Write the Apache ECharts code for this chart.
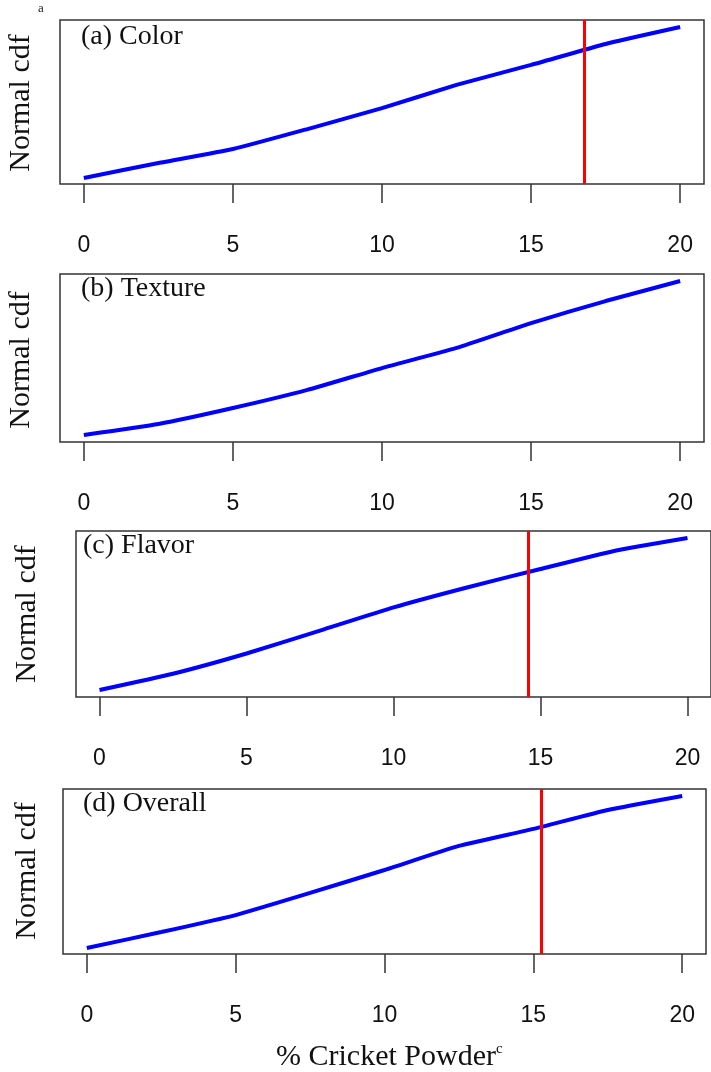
<!DOCTYPE html>
<html>
<head>
<meta charset="utf-8">
<script src="https://cdn.jsdelivr.net/npm/echarts@6/dist/echarts.min.js"></script>
<style>html,body{margin:0;padding:0;background:#fff}#c{width:711px;height:1072px}</style>
</head>
<body>
<div id="c"></div>
<script>
// ---- data ----
const xVals = [0, 2.5, 5, 7.5, 10, 12.5, 15, 17.5, 20];
const colorCdf   = [0.037, 0.128, 0.213, 0.335, 0.463, 0.604, 0.726, 0.854, 0.957];
const textureCdf = [0.042, 0.107, 0.202, 0.310, 0.440, 0.560, 0.708, 0.839, 0.958];
const flavorCdf  = [0.042, 0.140, 0.262, 0.400, 0.540, 0.660, 0.771, 0.880, 0.958];
const overallCdf = [0.036, 0.133, 0.236, 0.370, 0.509, 0.655, 0.758, 0.873, 0.958];
const panelTitles = ['(a) Color', '(b) Texture', '(c) Flavor', '(d) Overall'];
const thresholds = [16.8, null, 14.6, 15.25];
const xTicks = [0, 5, 10, 15, 20];
const yTitle = 'Normal cdf';
const xTitle = '% Cricket Powder';

const seriesData = [colorCdf, textureCdf, flavorCdf, overallCdf];

// layout (pixels)
const grids = [
  {left: 60, top: 20, width: 644, height: 164},
  {left: 60, top: 274, width: 644, height: 168},
  {left: 76, top: 531, width: 640, height: 166},
  {left: 63, top: 789, width: 643, height: 165}
];
const yTitlePos = [[21, 103], [21, 360], [27, 614], [27, 871]];

const option = {
  animation: false,
  backgroundColor: '#fff',
  grid: grids.map(g => Object.assign({show: true, borderColor: '#333', borderWidth: 1.5, backgroundColor: 'transparent'}, g)),
  xAxis: grids.map((g, i) => ({
    gridIndex: i, type: 'value', min: -0.8, max: 20.8,
    axisLine: {show: false},
    splitLine: {show: false},
    axisTick: {show: true, length: 19, inside: false, lineStyle: {color: '#333', width: 1.5}, customValues: xTicks},
    axisLabel: {show: true, margin: 50, fontFamily: 'Liberation Sans', fontSize: 23, color: '#111', customValues: xTicks}
  })),
  yAxis: grids.map((g, i) => ({
    gridIndex: i, type: 'value', min: 0, max: 1,
    axisLine: {show: false}, axisTick: {show: false}, axisLabel: {show: false}, splitLine: {show: false}
  })),
  series: seriesData.map((d, i) => {
    const s = {
      type: 'line', xAxisIndex: i, yAxisIndex: i,
      data: xVals.map((x, j) => [x, d[j]]),
      showSymbol: false, smooth: 0.15,
      lineStyle: {color: '#0000ff', width: 4},
      z: 3
    };
    if (thresholds[i] !== null) {
      s.markLine = {
        silent: true, symbol: ['none', 'none'],
        label: {show: false},
        lineStyle: {color: '#ff0000', width: 3, type: 'solid'},
        data: [{xAxis: thresholds[i]}],
        z: 4
      };
    }
    return s;
  }),
  graphic: [
    {type: 'text', left: 38, top: 2, style: {text: 'a', font: '13px "Liberation Serif"', fill: '#222'}},
    ...panelTitles.map((t, i) => ({
      type: 'text', x: [81, 81, 83, 83][i], y: [37, 289, 546, 804][i],
      style: {text: t, font: '28px "Liberation Serif"', fill: '#111', textVerticalAlign: 'middle'}
    })),
    ...yTitlePos.map(p => ({
      type: 'text', x: p[0], y: p[1], rotation: Math.PI / 2,
      style: {text: yTitle, font: '30px "Liberation Serif"', fill: '#111', textAlign: 'center', textVerticalAlign: 'middle'}
    })),
    {type: 'text', x: 276, y: 1057, style: {text: xTitle, font: '30px "Liberation Serif"', fill: '#111', textAlign: 'left', textVerticalAlign: 'middle'}},
    {type: 'text', x: 496, y: 1049, style: {text: 'c', font: '15px "Liberation Serif"', fill: '#111', textVerticalAlign: 'middle'}}
  ]
};
const chart = echarts.init(document.getElementById('c'), null, {renderer: 'canvas'});
chart.setOption(option);
</script>
</body>
</html>
